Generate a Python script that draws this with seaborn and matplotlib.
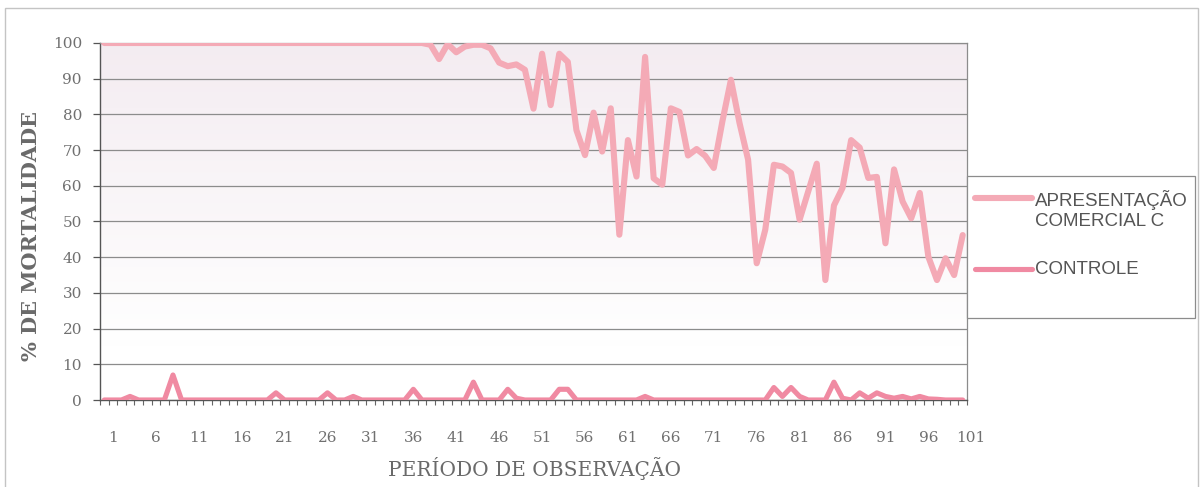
import numpy as np
import pandas as pd
import matplotlib
matplotlib.use("Agg")
import matplotlib.pyplot as plt
from matplotlib.lines import Line2D
from matplotlib.patches import Rectangle
from matplotlib.transforms import ScaledTranslation
import seaborn as sns

# Observation periods and mortality (%) per period
periodo = list(range(1, 102))

comercial_c = [100] * 38 + [
    99.5, 95.5, 99.7, 97.4, 99, 99.5, 99.5, 98.5, 94.5, 93.5,
    94, 92.5, 81.6, 97, 82.6, 97, 94.7, 75.6, 68.6, 80.5,
    69.6, 81.7, 46.3, 72.8, 62.6, 96.1, 62.1, 60.3, 81.7, 80.7,
    68.5, 70.3, 68.4, 65, 78, 89.7, 77.6, 67.3, 38.3, 47.7,
    65.9, 65.4, 63.6, 50.5, 58.4, 66.2, 33.6, 54.5, 59.4, 72.8,
    70.7, 62.2, 62.5, 43.9, 64.6, 55.6, 50.9, 58, 40.1, 33.6,
    39.7, 35, 46.2,
]

controle = [
    0, 0, 0, 1, 0, 0, 0, 0, 7, 0,
    0, 0, 0, 0, 0, 0, 0, 0, 0, 0,
    2, 0, 0, 0, 0, 0, 2, 0, 0, 1,
    0, 0, 0, 0, 0, 0, 3, 0, 0, 0,
    0, 0, 0, 5, 0, 0, 0, 3, 0.5, 0,
    0, 0, 0, 3, 3, 0, 0, 0, 0, 0,
    0, 0, 0, 1, 0, 0, 0, 0, 0, 0,
    0, 0, 0, 0, 0, 0, 0, 0, 3.5, 1,
    3.5, 1, 0, 0, 0, 5, 0.5, 0, 2, 0.5,
    2, 1, 0.5, 1, 0.3, 1, 0.3, 0.2, 0, 0,
    0,
]

series_names = ["APRESENTAÇÃO\nCOMERCIAL C", "CONTROLE"]
series_colors = ["#f4aab6", "#f08aa2"]
x_tick_labels = [str(v) for v in range(1, 102, 5)]
y_ticks = list(range(0, 101, 10))

sns.set_theme(style="white")

W, H = 1202, 487
fig = plt.figure(figsize=(W / 100, H / 100), dpi=100)
ax = fig.add_axes([100 / W, 1 - 400 / H, 867 / W, 357 / H])

# soft lavender-pink wash fading to white toward the bottom of the plot area
grad = np.linspace(0, 1, 256)[:, None]
top = np.array([0.955, 0.925, 0.945])
bot = np.array([1.0, 1.0, 1.0])
t = np.clip(grad / 0.85, 0, 1)
img = (top * (1 - t) + bot * t)[:, None, :].repeat(2, axis=1)
ax.imshow(img, extent=(0, 1, 0, 1), transform=ax.transAxes,
          aspect="auto", zorder=0, origin="upper")

df = pd.DataFrame({"periodo": periodo, "comercial": comercial_c, "controle": controle})
sns.lineplot(data=df, x="periodo", y="comercial", ax=ax, color=series_colors[0],
             linewidth=4.4, solid_joinstyle="round", solid_capstyle="round", zorder=3)
sns.lineplot(data=df, x="periodo", y="controle", ax=ax, color=series_colors[1],
             linewidth=3.7, solid_joinstyle="round", solid_capstyle="round", zorder=4)

# categories sit between tick marks
ax.set_xlim(0.5, len(periodo) + 0.5)
ax.set_ylim(0, 100)
ax.set_xlabel("")
ax.set_ylabel("")

# axes, grid and ticks
ax.set_axisbelow(True)
ax.yaxis.grid(True, color="#8c8c8c", linewidth=0.9)
ax.xaxis.grid(False)
for side in ["left", "bottom"]:
    ax.spines[side].set_color("#555555")
    ax.spines[side].set_linewidth(1.0)
for side in ["right", "top"]:
    ax.spines[side].set_color("#8c8c8c")
    ax.spines[side].set_linewidth(0.9)

ax.set_yticks(y_ticks)
ax.set_yticklabels([str(v) for v in y_ticks])
ax.set_xticks(list(range(1, 102, 5)))
ax.set_xticklabels(x_tick_labels)
ax.set_xticks([p - 0.5 for p in periodo] + [len(periodo) + 0.5], minor=True)

ax.tick_params(axis="y", which="major", direction="out", length=5, width=0.9,
               color="#555555", pad=8, labelsize=11, labelcolor="#707070", left=True)
ax.tick_params(axis="x", which="minor", direction="out", length=3.5, width=0.8,
               color="#666666", bottom=True)
ax.tick_params(axis="x", which="major", length=0, pad=22.5, labelsize=11,
               labelcolor="#707070", bottom=True)

for lab in ax.get_yticklabels() + ax.get_xticklabels():
    lab.set_fontfamily("DejaVu Serif")
shift = ScaledTranslation(8.5 / 100, 0, fig.dpi_scale_trans)
for lab in ax.get_xticklabels():
    lab.set_transform(lab.get_transform() + shift)

# axis titles
fig.text(31 / W, 1 - 236 / H, "% DE MORTALIDADE", rotation=90, ha="center", va="center",
         fontfamily="DejaVu Serif", fontweight="bold", fontsize=15, color="#6a6a6a")
fig.text(535 / W, 1 - 469 / H, "PERÍODO DE OBSERVAÇÃO", ha="center", va="center",
         fontfamily="DejaVu Serif", fontsize=14.5, color="#6a6a6a")

# legend box at the right of the plot area
fig.add_artist(Rectangle((967 / W, 1 - 318 / H), 228 / W, 142 / H, transform=fig.transFigure,
                         facecolor="white", edgecolor="#8c8c8c", linewidth=0.9, zorder=5))
for yy, name, col, lw in [(198, series_names[0], series_colors[0], 4.4),
                          (269, series_names[1], series_colors[1], 3.7)]:
    fig.add_artist(Line2D([975 / W, 1032 / W], [1 - yy / H, 1 - yy / H], transform=fig.transFigure,
                          color=col, linewidth=lw, solid_capstyle="round", zorder=6))
    fig.text(1035 / W, 1 - (yy - 7.5) / H, name, ha="left", va="top", fontfamily="Liberation Sans",
             fontsize=13.5, color="#555555", linespacing=1.2, zorder=7)

# thin outer frame of the chart
fig.add_artist(Rectangle((5 / W, -0.01), 1193 / W, 1 - 8 / H + 0.01, transform=fig.transFigure,
                         facecolor="none", edgecolor="#c4c4c4", linewidth=1.0, zorder=1))

fig.savefig("out.png", dpi=100, facecolor="white")
